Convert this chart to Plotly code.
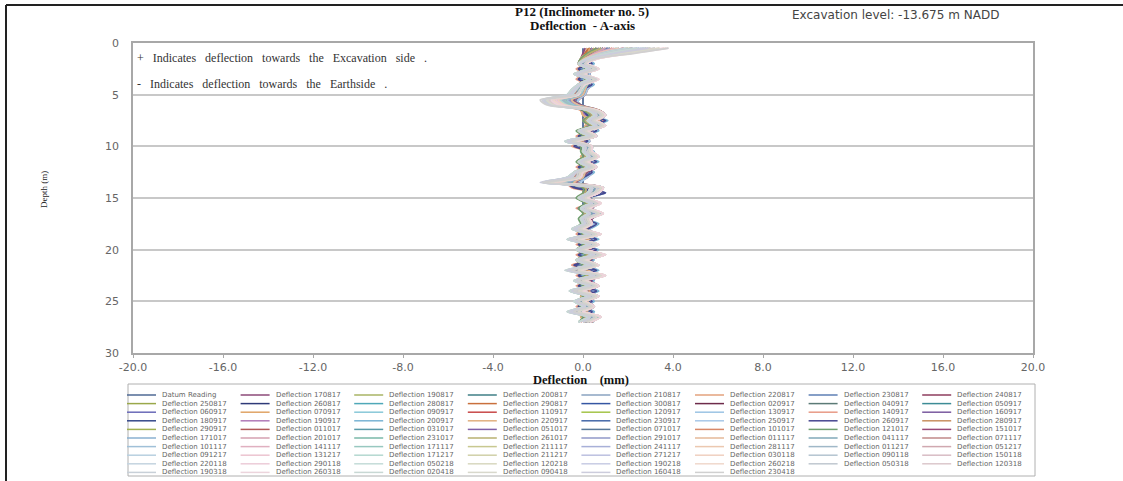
import plotly.graph_objects as go

# ---------------- data ----------------
depth_m = [0.5, 1.0, 1.5, 2.0, 2.5, 3.0, 3.5, 4.0, 4.5,
           5.0, 5.5, 6.0, 6.5, 7.0, 7.5, 8.0, 8.5, 9.0,
           9.5, 10.0, 10.5, 11.0, 11.5, 12.0, 12.5, 13.0, 13.5,
           14.0, 14.5, 15.0, 15.5, 16.0, 16.5, 17.0, 17.5, 18.0,
           18.5, 19.0, 19.5, 20.0, 20.5, 21.0, 21.5, 22.0, 22.5,
           23.0, 23.5, 24.0, 24.5, 25.0, 25.5, 26.0, 26.5, 27.0]

x_tick_values = [-20, -16, -12, -8, -4, 0, 4, 8, 12, 16, 20]
x_tick_labels = ["-20.0", "-16.0", "-12.0", "-8.0", "-4.0", "0.0", "4.0", "8.0", "12.0", "16.0", "20.0"]
y_tick_values = [0, 5, 10, 15, 20, 25, 30]

reading_dates = ["170817", "190817", "200817", "210817", "220817", "230817", "240817",
                 "250817", "260817", "280817", "290817", "300817", "020917", "040917", "050917",
                 "060917", "070917", "090917", "110917", "120917", "130917", "140917", "160917",
                 "180917", "190917", "200917", "220917", "230917", "250917", "260917", "280917",
                 "290917", "011017", "031017", "051017", "071017", "101017", "121017", "151017",
                 "171017", "201017", "231017", "261017", "291017", "011117", "041117", "071117",
                 "101117", "141117", "171117", "211117", "241117", "281117", "011217", "051217",
                 "091217", "131217", "171217", "211217", "271217", "030118", "090118", "150118",
                 "220118", "290118", "050218", "120218", "190218", "260218", "050318", "120318",
                 "190318", "260318", "020418", "090418", "160418", "230418"]

# deflection readings, in tenths of a millimetre, top to bottom (one string per reading)
defl_tenths = [
"1 0 -1 -2 1 -2 1 -1 -2 | -3 -3 -2 1 3 1 2 -1 1 | -2 0 1 1 -1 1 -1 -2 -3 | 1 1 -1 2 0 1 0 1 -2 | 1 -2 1 -1 2 -1 1 -2 2 | -1 1 -2 1 -1 0 -2 1 0",
"2 1 0 -1 2 -1 1 0 -1 | -2 -3 -1 2 3 2 3 0 1 | -2 1 0 2 -1 1 -2 -1 -4 | 2 1 0 2 1 1 0 1 -1 | 2 -1 1 0 2 0 1 -1 2 | 0 1 -1 1 0 1 -1 1 0",
"3 2 1 -1 1 -2 2 -1 -2 | -3 -4 -2 1 3 1 3 -1 2 | -3 0 1 1 0 2 -1 -2 -5 | 1 2 -1 2 0 2 1 0 -2 | 1 -3 2 -1 2 -1 1 -3 2 | -1 2 -2 1 -1 1 -2 1 0",
"4 3 2 0 2 -1 1 0 -1 | -2 -4 -3 2 4 3 3 0 1 | -2 1 2 1 0 1 -1 -1 -5 | 3 2 0 3 1 2 0 1 -1 | 2 -2 2 0 3 1 2 -2 2 | 0 2 -1 2 0 1 -1 1 1",
"2 1 -1 -2 0 -3 1 -2 -3 | -4 -5 -3 0 2 0 2 -2 0 | -4 -1 0 0 -2 0 -2 -3 -6 | 0 0 -2 1 -1 0 -1 0 -3 | 0 -4 0 -2 1 -2 0 -4 1 | -2 0 -3 0 -2 -1 -3 0 -1",
"6 4 2 1 3 0 3 1 0 | -1 -3 -1 3 5 3 5 1 3 | -2 2 2 3 1 3 0 -1 -4 | 3 3 1 4 2 3 2 2 0 | 3 -1 3 1 4 1 3 -1 4 | 1 3 0 3 1 2 0 3 2",
"3 1 0 -1 2 -2 2 0 -2 | -3 -5 -4 2 4 2 4 0 2 | -3 1 1 2 -1 2 -2 -3 -7 | 2 2 0 3 1 2 0 1 -2 | 2 -2 2 -1 3 -1 2 -3 3 | 0 2 -2 2 -1 1 -2 2 1",
"5 3 1 0 3 -1 3 1 -1 | -2 -4 -2 3 5 2 4 1 2 | -2 2 1 3 0 2 -1 -1 -5 | 3 2 1 3 2 2 1 2 -1 | 3 -1 2 0 4 0 3 -1 3 | 1 2 -1 3 0 2 -1 2 1",
"4 2 2 -1 1 -2 1 -1 -2 | -3 -6 -4 1 3 1 3 -1 1 | -4 0 0 1 -1 1 -2 -3 -7 | 1 1 -1 2 0 1 0 0 -2 | 1 -3 1 -1 2 -1 1 -3 2 | -1 1 -2 1 -1 0 -2 1 0",
"8 5 3 1 3 0 3 1 0 | -1 -4 -2 3 5 3 5 1 3 | -2 2 2 3 1 3 0 -1 -5 | 3 3 1 4 2 3 2 2 0 | 3 -1 3 1 4 1 3 -1 4 | 1 3 0 3 1 2 0 3 2",
"3 1 0 -2 1 -3 1 -1 -3 | -4 -6 -4 1 3 1 3 -1 1 | -4 0 0 1 -1 1 -2 -3 -8 | 1 1 -1 2 0 1 0 0 -2 | 1 -3 1 -1 2 -1 1 -3 2 | -1 1 -2 1 -1 0 -2 1 0",
"6 3 2 1 3 0 2 1 0 | -1 -4 -2 3 6 3 5 1 3 | -2 2 2 3 1 3 0 -1 -5 | 4 3 1 4 2 3 1 2 0 | 3 -1 3 1 4 1 3 -1 4 | 1 3 0 3 1 2 0 3 2",
"10 6 2 0 2 -1 2 0 -1 | -2 -5 -3 2 4 2 4 0 2 | -3 1 1 2 0 2 -1 -2 -6 | 2 2 0 3 1 2 1 1 -1 | 2 -2 2 0 3 0 2 -2 3 | 0 2 -1 2 0 1 -1 2 1",
"4 2 0 -1 2 -2 2 -1 -2 | -3 -6 -4 2 5 2 4 -1 2 | -3 1 0 2 -1 2 -2 -2 -7 | 2 1 -1 3 0 2 0 1 -2 | 2 -3 2 -1 3 -1 2 -3 3 | -1 2 -2 2 -1 1 -2 2 0",
"7 4 2 1 3 -1 3 0 0 | -2 -5 -3 3 5 3 5 1 3 | -3 2 2 3 0 3 -1 -2 -6 | 3 3 1 4 2 3 1 2 -1 | 3 -2 3 0 4 0 3 -2 4 | 0 3 -1 3 0 2 -1 3 1",
"8 5 1 4 -1 2 -1 4 1 | -1 -4 -5 1 2 8 4 5 -1 | 2 -2 4 1 5 -1 4 1 -4 | -2 8 2 5 -1 5 1 5 2 | -1 5 -1 5 -1 4 -2 5 -1 | 4 -1 5 1 4 -1 4 1 3",
"3 2 -1 1 -2 0 -2 1 -1 | -2 -4 -5 -1 0 4 1 2 -2 | 0 -3 1 -1 2 -2 1 -1 -4 | -3 4 0 2 -2 2 -1 2 0 | -2 2 -2 2 -2 1 -3 2 -2 | 1 -2 2 -1 1 -2 1 -1 1",
"10 6 0 4 -2 2 -2 4 0 | -2 -6 -8 0 2 10 4 6 -2 | 2 -4 4 0 6 -2 4 0 -6 | -4 9 2 6 -2 6 0 6 2 | -2 6 -2 6 -2 4 -4 6 -2 | 4 -2 6 0 4 -2 4 0 4",
"6 5 2 4 1 3 1 4 2 | 1 -2 -3 2 3 7 4 5 1 | 3 0 4 2 5 1 4 2 -2 | 0 7 3 5 1 5 2 5 3 | 1 5 1 5 1 4 0 5 1 | 4 1 5 2 4 1 4 2 4",
"7 4 0 3 -2 2 -2 3 0 | -2 -5 -6 0 2 7 3 4 -2 | 2 -3 3 0 4 -2 3 0 -5 | -3 7 2 4 -2 4 0 4 2 | -2 4 -2 4 -2 3 -3 4 -2 | 3 -2 4 0 3 -2 3 0 3",
"5 4 1 3 0 2 0 3 1 | 0 -2 -3 1 2 6 3 4 0 | 2 -1 3 1 4 0 3 1 -2 | -1 6 2 4 0 4 1 4 2 | 0 4 0 4 0 3 -1 4 0 | 3 0 4 1 3 0 3 1 3",
"9 5 -1 3 -3 1 -3 3 -1 | -3 -7 -9 -1 1 9 3 5 -3 | 1 -5 3 -1 5 -3 3 -1 -7 | -5 9 1 5 -3 5 -1 5 1 | -3 5 -3 5 -3 3 -5 5 -3 | 3 -3 5 -1 3 -3 3 -1 3",
"6 4 0 2 -1 1 -1 2 0 | -1 -4 -5 0 1 6 2 4 -1 | 1 -2 2 0 4 -1 2 0 -4 | -2 6 1 4 -1 4 0 4 1 | -1 4 -1 4 -1 2 -2 4 -1 | 2 -1 4 0 2 -1 2 0 2",
"9 6 1 4 -1 3 -1 4 1 | -1 -4 -6 1 2 8 4 5 -1 | 2 -2 4 1 5 -1 4 1 -4 | -2 8 2 5 -1 5 1 5 2 | -1 5 -1 5 -1 4 -2 5 -1 | 4 -1 5 1 4 -1 4 1 4",
"4 3 0 2 -1 1 -1 2 0 | -1 -4 -5 0 1 5 2 3 -1 | 1 -2 2 0 3 -1 2 0 -4 | -2 5 1 3 -1 3 0 3 1 | -1 3 -1 3 -1 2 -2 3 -1 | 2 -1 3 0 2 -1 2 0 2",
"12 7 1 5 -1 3 -1 5 1 | -1 -6 -8 1 3 11 5 7 -1 | 3 -3 5 1 7 -1 5 1 -6 | -3 10 3 7 -1 7 1 7 3 | -1 7 -1 7 -1 5 -3 7 -1 | 5 -1 7 1 5 -1 5 1 5",
"5 3 -1 2 -2 0 -2 2 -1 | -2 -5 -6 -1 0 5 1 3 -2 | 0 -3 2 -1 3 -2 2 -1 -5 | -3 5 0 3 -2 3 -1 3 0 | -2 3 -2 3 -2 2 -3 3 -2 | 2 -2 3 -1 2 -2 2 -1 2",
"8 5 0 3 -2 2 -2 3 0 | -2 -5 -7 0 2 8 3 5 -2 | 2 -3 3 0 5 -2 3 0 -5 | -3 8 2 5 -2 5 0 5 2 | -2 5 -2 5 -2 3 -3 5 -2 | 3 -2 5 0 3 -2 3 0 3",
"7 6 2 4 1 3 1 4 2 | 1 -2 -2 2 3 7 4 5 1 | 3 0 4 2 5 1 4 2 -1 | 0 7 3 5 1 5 2 5 3 | 1 5 1 5 1 4 0 5 1 | 4 1 5 2 4 1 4 2 4",
"11 6 0 4 -2 2 -2 4 0 | -2 -7 -8 0 2 10 4 6 -2 | 2 -4 4 0 6 -2 4 0 -7 | -4 10 2 6 -2 6 0 6 2 | -2 6 -2 6 -2 4 -4 6 -2 | 4 -2 6 0 4 -2 4 0 4",
"6 2 0 -2 2 -3 2 -2 -3 | -4 -8 -5 1 4 1 4 -2 1 | -5 0 0 1 -2 1 -3 -4 -10 | 1 1 -2 2 -1 1 -1 0 -3 | 1 -4 1 -2 2 -2 1 -4 2 | -2 1 -3 1 -2 0 -3 1 -1",
"12 7 3 1 4 0 4 1 0 | -1 -5 -2 4 7 4 7 1 4 | -2 2 3 4 1 4 0 -1 -5 | 6 4 1 5 2 5 2 2 0 | 5 -1 4 1 6 1 4 -1 6 | 1 4 0 4 1 3 0 4 2",
"9 4 2 0 3 -1 3 -1 -2 | -3 -7 -4 3 6 3 6 0 3 | -4 1 2 3 0 3 -1 -3 -8 | 3 3 0 4 1 3 1 1 -2 | 3 -3 3 0 4 0 3 -3 4 | 0 3 -2 3 0 2 -2 3 1",
"16 11 5 2 6 1 5 2 1 | 0 -4 -1 7 10 7 9 3 6 | -1 4 4 6 3 5 2 0 -3 | 9 6 3 7 4 8 4 4 1 | 7 0 6 2 8 3 6 0 8 | 2 6 1 6 2 5 1 6 4",
"7 3 0 -2 2 -3 2 -2 -3 | -5 -9 -6 1 4 1 4 -2 1 | -6 0 0 1 -2 1 -3 -5 -12 | 1 1 -2 2 -1 1 -1 0 -3 | 1 -5 1 -2 2 -2 1 -5 2 | -3 1 -3 1 -3 0 -4 1 -1",
"11 7 3 1 4 0 4 1 0 | -1 -6 -3 4 8 4 7 1 4 | -2 2 2 4 1 4 0 -1 -6 | 6 4 1 5 2 5 2 2 0 | 5 -1 4 1 6 1 4 -1 6 | 1 4 0 4 1 3 0 4 2",
"13 8 4 1 5 0 4 1 0 | -1 -6 -3 5 8 5 8 1 4 | -2 3 3 4 1 4 0 -1 -6 | 7 5 2 5 3 6 2 3 0 | 5 -1 5 1 6 1 5 -1 6 | 1 5 0 5 1 3 0 5 3",
"6 2 -1 -2 1 -3 1 -2 -4 | -5 -9 -6 0 3 0 3 -3 0 | -6 -1 -1 0 -3 0 -4 -5 -12 | 0 0 -3 1 -2 0 -2 -1 -4 | 0 -5 0 -3 1 -3 0 -5 1 | -3 0 -4 0 -3 -1 -4 0 -2",
"18 12 6 2 6 1 6 2 1 | 0 -4 -1 7 10 7 10 3 6 | -1 4 4 6 3 6 2 0 -3 | 9 7 3 7 4 8 4 4 1 | 7 0 6 3 9 3 6 0 9 | 3 7 1 7 2 5 1 7 4",
"9 5 2 0 3 -1 3 0 -1 | -2 -7 -4 3 6 3 6 0 3 | -3 1 2 3 0 3 -1 -2 -8 | 4 3 0 4 1 3 1 1 -1 | 3 -2 3 0 5 0 3 -2 5 | 0 3 -1 3 0 2 -1 3 1",
"10 5 1 -1 3 -2 3 -1 -2 | -3 -8 -5 2 5 2 5 -1 2 | -4 1 1 2 -1 2 -2 -3 -10 | 3 2 -1 3 0 2 0 1 -2 | 2 -3 2 -1 4 -1 2 -3 4 | -1 2 -2 2 -1 1 -2 2 0",
"15 10 4 2 5 1 5 1 1 | 0 -5 -2 6 9 6 8 2 5 | -1 3 3 5 2 5 1 0 -5 | 8 5 2 6 3 7 3 3 1 | 6 0 5 2 7 2 5 0 7 | 2 5 1 5 2 4 1 5 3",
"8 3 0 -2 2 -3 2 -2 -3 | -5 -9 -6 1 4 1 4 -2 1 | -6 0 0 1 -2 1 -3 -5 -12 | 1 1 -2 2 -1 1 -1 0 -3 | 1 -5 1 -2 2 -2 1 -5 2 | -3 1 -3 1 -3 0 -4 1 -1",
"12 7 3 1 4 0 4 1 0 | -1 -6 -3 4 8 4 8 1 4 | -2 2 3 4 1 4 0 -1 -6 | 6 4 1 5 2 5 2 2 0 | 5 -1 4 1 6 1 4 -1 6 | 1 4 0 4 1 3 0 4 2",
"20 13 5 2 6 1 5 2 1 | 0 -5 -2 7 10 7 9 2 6 | -1 4 4 6 2 5 1 0 -4 | 9 6 2 7 3 8 3 4 1 | 7 0 6 2 9 2 6 0 9 | 2 6 1 6 2 5 1 7 4",
"22 10 3 0 4 -2 4 0 -2 | -3 -9 -6 4 7 4 7 0 4 | -5 2 2 4 0 3 -2 -3 -11 | 5 4 0 5 1 4 1 2 -2 | 4 -4 4 -1 6 -1 4 -4 6 | -1 4 -3 4 -1 2 -3 4 1",
"18 8 2 -1 3 -3 3 -1 -3 | -4 -10 -7 3 6 3 6 -1 3 | -6 1 1 3 -1 3 -3 -4 -12 | 4 3 -1 4 0 3 0 1 -3 | 3 -5 3 -2 5 -2 3 -5 5 | -2 3 -4 3 -2 1 -4 3 0",
"25 14 5 2 6 0 6 1 0 | -1 -7 -4 6 10 6 9 2 6 | -3 4 4 6 2 5 0 -1 -8 | 9 6 2 7 3 8 3 4 0 | 7 -1 6 1 9 1 6 -1 9 | 1 6 0 6 1 4 0 7 3",
"14 6 1 -2 2 -3 2 -2 -4 | -5 -11 -8 2 5 2 5 -2 2 | -7 0 0 2 -2 2 -3 -5 -13 | 3 2 -2 3 -1 2 -1 0 -4 | 2 -6 2 -3 4 -3 2 -6 4 | -3 2 -5 2 -3 0 -5 2 -1",
"28 16 6 2 6 1 6 2 0 | -1 -8 -5 6 10 6 10 2 6 | -3 4 4 7 2 6 0 -1 -9 | 9 7 2 7 3 8 3 4 0 | 7 -1 7 1 9 1 7 -1 9 | 1 7 0 7 1 5 0 7 3",
"20 9 2 -1 3 -3 3 -1 -3 | -5 -12 -9 3 6 3 6 -1 3 | -6 1 1 3 -1 3 -3 -5 -14 | 4 3 -1 4 0 3 0 1 -3 | 3 -5 3 -2 5 -2 3 -5 5 | -2 3 -4 3 -2 1 -4 3 0",
"24 12 4 1 5 -1 5 0 -1 | -2 -10 -7 5 8 5 8 1 5 | -4 3 3 5 1 4 -1 -2 -12 | 7 5 1 6 2 6 2 3 -1 | 5 -2 5 0 7 0 5 -2 7 | 0 5 -2 5 0 3 -2 5 2",
"16 7 1 -2 2 -4 2 -2 -4 | -6 -13 -10 2 5 2 5 -2 2 | -7 0 0 2 -2 2 -4 -6 -15 | 3 2 -2 3 -1 2 -1 0 -4 | 2 -6 2 -3 4 -3 2 -6 4 | -3 2 -5 2 -3 0 -5 2 -1",
"30 17 6 2 6 0 6 1 0 | -1 -9 -6 6 10 6 10 2 6 | -3 4 4 7 2 6 0 -1 -10 | 9 7 2 7 3 9 3 4 0 | 8 -1 7 1 10 1 7 -1 10 | 1 7 0 7 1 5 0 8 3",
"22 10 3 -1 3 -3 3 -1 -3 | -5 -13 -10 3 6 3 6 -1 3 | -6 1 1 3 -1 3 -3 -5 -15 | 4 3 -1 4 0 3 0 1 -3 | 3 -5 3 -2 5 -2 3 -5 5 | -2 3 -4 3 -2 1 -4 3 0",
"26 13 4 1 5 -1 5 0 -1 | -3 -11 -8 5 8 5 8 1 5 | -4 3 3 5 1 5 -1 -2 -13 | 7 5 1 6 2 6 2 3 -1 | 6 -2 5 0 8 0 5 -2 8 | 0 5 -2 5 0 3 -2 6 2",
"18 8 2 -2 2 -4 2 -2 -4 | -6 -14 -11 2 5 2 5 -2 2 | -7 0 0 2 -2 2 -4 -6 -16 | 3 2 -2 3 -1 2 -1 0 -4 | 2 -6 2 -3 4 -3 2 -7 4 | -3 2 -5 2 -3 0 -6 2 -1",
"32 18 6 2 7 0 6 1 0 | -2 -10 -7 6 10 6 10 2 6 | -3 4 4 7 2 6 0 -1 -11 | 9 7 2 8 3 9 3 4 0 | 8 -1 7 1 10 1 7 -1 10 | 1 7 0 7 1 5 0 8 3",
"21 10 3 -1 3 -3 3 -1 -3 | -5 -14 -11 3 6 3 6 -1 3 | -6 1 1 3 -1 3 -3 -5 -16 | 4 3 -1 4 0 3 0 1 -3 | 3 -6 3 -2 5 -2 3 -6 5 | -2 3 -5 3 -2 1 -5 3 0",
"27 14 4 1 5 -1 5 0 -1 | -3 -12 -9 5 8 5 8 1 5 | -4 3 3 5 1 5 -1 -2 -14 | 7 5 1 6 2 6 2 3 -1 | 6 -2 5 0 8 0 5 -2 8 | 0 5 -2 5 0 3 -2 6 2",
"34 19 7 2 7 0 6 1 -1 | -2 -11 -8 6 10 6 10 2 6 | -3 4 4 7 2 6 0 -1 -12 | 9 7 2 8 3 9 3 4 0 | 8 -1 7 1 10 1 7 -1 10 | 1 7 0 7 1 5 0 8 3",
"19 8 2 -2 2 -4 2 -2 -5 | -7 -15 -12 2 5 2 5 -2 2 | -8 0 0 2 -2 2 -4 -7 -16 | 3 2 -2 3 -1 2 -1 0 -5 | 2 -7 2 -3 4 -3 2 -7 4 | -4 2 -6 2 -4 0 -6 2 -2",
"29 15 5 1 5 -1 5 0 -1 | -3 -13 -10 5 9 5 9 1 5 | -4 3 3 6 1 5 -1 -2 -14 | 8 5 1 6 2 7 2 3 -1 | 6 -2 6 0 8 0 6 -2 8 | 0 6 -2 6 0 4 -2 6 2",
"23 11 3 -1 3 -3 3 -1 -3 | -5 -15 -12 3 6 3 6 -1 3 | -6 1 1 3 -1 3 -3 -5 -17 | 4 3 -1 4 0 3 0 1 -3 | 3 -6 3 -2 5 -2 3 -6 5 | -2 3 -5 3 -2 1 -5 3 0",
"36 20 7 2 7 0 7 1 -1 | -2 -12 -9 6 10 6 10 2 6 | -3 4 4 7 2 6 0 -1 -13 | 9 7 2 8 3 9 3 4 0 | 8 -1 7 1 10 1 7 -1 10 | 1 7 0 7 1 5 0 8 3",
"20 9 2 -2 2 -4 2 -2 -5 | -7 -16 -13 2 5 2 5 -2 2 | -8 0 0 2 -2 2 -4 -7 -17 | 3 2 -2 3 -1 2 -1 0 -5 | 2 -7 2 -3 4 -3 2 -7 4 | -4 2 -6 2 -4 0 -7 2 -2",
"30 16 5 1 5 -1 5 0 -1 | -3 -14 -11 5 9 5 9 1 5 | -4 3 3 6 1 5 -1 -2 -15 | 8 5 1 6 2 7 2 3 -1 | 6 -2 6 0 8 0 6 -2 8 | 0 6 -2 6 0 4 -2 6 2",
"25 12 3 -1 3 -3 3 -1 -4 | -6 -16 -13 3 6 3 6 -1 3 | -7 1 1 3 -1 3 -3 -6 -17 | 4 3 -1 4 0 3 0 1 -4 | 3 -6 3 -2 5 -2 3 -7 5 | -3 3 -5 3 -3 1 -6 3 0",
"37 21 7 2 7 0 7 1 -1 | -2 -13 -10 6 10 6 10 2 6 | -3 4 4 7 2 6 0 -1 -14 | 9 7 2 8 3 9 3 4 0 | 8 -1 7 1 10 1 7 -1 10 | 1 7 0 7 1 5 0 8 3",
"22 10 2 -2 2 -4 2 -2 -5 | -7 -17 -14 2 5 2 5 -2 2 | -8 0 0 2 -2 2 -4 -7 -18 | 3 2 -2 3 -1 2 -1 0 -5 | 2 -7 2 -3 4 -3 2 -8 4 | -4 2 -6 2 -4 0 -7 2 -2",
"32 17 5 1 5 -1 5 0 -1 | -3 -15 -12 5 9 5 9 1 5 | -4 3 3 6 1 5 -1 -2 -16 | 8 5 1 6 2 7 2 3 -1 | 6 -2 6 0 8 0 6 -2 8 | 0 6 -2 6 0 4 -2 6 2",
"27 13 3 -1 3 -3 3 -1 -4 | -6 -17 -14 3 6 3 6 -1 3 | -7 1 1 3 -1 3 -3 -6 -18 | 4 3 -1 4 0 3 0 1 -4 | 3 -6 3 -2 5 -2 3 -7 5 | -3 3 -5 3 -3 1 -6 3 0",
"38 22 7 2 7 0 7 1 -1 | -2 -14 -11 6 10 6 10 2 6 | -3 4 4 7 2 6 0 -1 -15 | 9 7 2 8 3 9 3 4 0 | 8 -1 7 1 10 1 7 -1 10 | 1 7 0 7 1 5 0 8 3",
"24 11 2 -2 2 -4 2 -2 -5 | -7 -18 -15 2 5 2 5 -2 2 | -8 0 0 2 -2 2 -4 -7 -18 | 3 2 -2 3 -1 2 -1 0 -5 | 2 -7 2 -3 4 -3 2 -8 4 | -4 2 -6 2 -4 0 -7 2 -2",
"34 18 5 1 5 -1 5 0 -1 | -3 -16 -13 5 9 5 9 1 5 | -4 3 3 6 1 5 -1 -2 -16 | 8 5 1 6 2 7 2 3 -1 | 6 -2 6 0 8 0 6 -2 8 | 0 6 -2 6 0 4 -2 6 2",
"29 14 3 -1 3 -3 3 -1 -4 | -6 -18 -15 3 6 3 6 -1 3 | -7 1 1 3 -1 3 -3 -6 -19 | 4 3 -1 4 0 3 0 1 -4 | 3 -6 3 -2 5 -2 3 -7 5 | -3 3 -5 3 -3 1 -6 3 0",
"38 23 6 1 6 -1 6 0 -1 | -3 -19 -16 4 8 4 8 0 4 | -5 3 2 5 0 4 -2 -3 -18 | 6 5 0 6 1 6 1 2 -2 | 5 -4 5 -1 7 -1 5 -5 7 | -2 5 -4 5 -2 3 -4 5 1",
]

datum_mm = [0.0] * len(depth_m)

series_colors = [
    "#4f6a94", "#8c4a78", "#a8b464", "#3f7f86", "#8aa3c0", "#e3a27c", "#5e7fb5", "#8e3d5e",
    "#9aa84a", "#2e3a78", "#4fa8b8", "#c9703c", "#3556a3", "#6e2b4a", "#5b7a76", "#3c8c96",
    "#6a6ab8", "#e0a466", "#88c8d8", "#c84848", "#a4c448", "#9cc4e4", "#e89a86", "#7a5aa0",
    "#34488a", "#b07ab8", "#7ab4d4", "#e0b080", "#4468a8", "#a8c8e8", "#464690", "#c89060",
    "#a0b050", "#b05858", "#5a9aa8", "#8060a8", "#587898", "#d88868", "#70a070", "#984878",
    "#8ab0d0", "#d4a0b0", "#7ab8a8", "#b8b070", "#9098c8", "#e4b898", "#80a8b8", "#c08888",
    "#a0c0d8", "#e0b0c0", "#98c8c0", "#c8c890", "#a8b0d8", "#ecc8b0", "#a0b8c8", "#d0a8b0",
    "#b8d0e0", "#ecc4d0", "#b4d8d0", "#d0d0a8", "#bcc0e0", "#f0d0c0", "#b4c4d0", "#d8bcc4",
    "#c4d4e0", "#ecccd8", "#c4dcd8", "#d8d8c0", "#c8cce4", "#f0d8cc", "#c0c8d0", "#dcc8cc",
    "#c8d0d8", "#ecd4dc", "#c8d8d4", "#d8d8cc", "#ccccdc", "#d0d0d0",
]

# ---------------- figure ----------------
W, H = 1123, 481
L, R, T, B = 133, 1033, 43, 353
NB = "\u00a0"


def px2x(px):
    return (px - L) / (R - L)


def py2y(py):
    return (B - py) / (B - T)


def spaced(text, n):
    return (NB * n + " ").join(text.split(" "))


labels = ["Datum Reading"] + ["Deflection " + d for d in reading_dates]
values_mm = [datum_mm]
for s in defl_tenths:
    values_mm.append([int(v) / 10.0 for v in s.replace("|", " ").split()])

fig = go.Figure()
for lab, col, vals in zip(labels, series_colors, values_mm):
    n = min(len(vals), len(depth_m))
    fig.add_trace(go.Scatter(
        x=vals[:n], y=depth_m[:n], mode="lines", name=lab,
        line=dict(color=col, width=1.8, shape="spline", smoothing=0.8),
        showlegend=False, hoverinfo="skip"))

tick_font = dict(family="DejaVu Sans", size=11, color="#666666")
serif = "Liberation Serif"

fig.update_layout(
    width=W, height=H, autosize=False,
    margin=dict(l=L, r=W - R, t=T, b=H - B, pad=0),
    paper_bgcolor="white", plot_bgcolor="white",
    xaxis=dict(range=[-20, 20], tickvals=x_tick_values, ticktext=x_tick_labels,
               showgrid=False, zeroline=False,
               showline=True, linecolor="#a8a8a8", linewidth=1.5, mirror=True,
               ticks="outside", ticklen=3, tickcolor="#a8a8a8", tickfont=tick_font),
    yaxis=dict(range=[30, 0], tickvals=y_tick_values, showgrid=True,
               gridcolor="#c8c8c8", gridwidth=2, zeroline=False,
               showline=True, linecolor="#a8a8a8", linewidth=1.5, mirror=True,
               ticks="", ticklabelstandoff=10, tickfont=tick_font),
    showlegend=False,
)

ann = []
ann.append(dict(x=px2x(582), y=py2y(12), xref="paper", yref="paper",
                text="<b>P12 (Inclinometer no. 5)</b>", showarrow=False,
                font=dict(family=serif, size=13, color="#111111"), xanchor="center", yanchor="middle"))
ann.append(dict(x=px2x(582), y=py2y(25.5), xref="paper", yref="paper",
                text="<b>Deflection  - A-axis</b>", showarrow=False,
                font=dict(family=serif, size=13, color="#111111"), xanchor="center", yanchor="middle"))
ann.append(dict(x=px2x(895), y=py2y(15), xref="paper", yref="paper",
                text="Excavation level: -13.675 m NADD", showarrow=False,
                font=dict(family="DejaVu Sans", size=12, color="#444444"), xanchor="center", yanchor="middle"))
ann.append(dict(x=px2x(135), y=1.45, xref="paper", yref="y",
                text=spaced("+ Indicates deflection towards the Excavation side .", 2), showarrow=False,
                font=dict(family=serif, size=12, color="#333333"), xanchor="left", yanchor="middle"))
ann.append(dict(x=px2x(135), y=3.95, xref="paper", yref="y",
                text=spaced("- Indicates deflection towards the Earthside .", 2), showarrow=False,
                font=dict(family=serif, size=12, color="#333333"), xanchor="left", yanchor="middle"))
ann.append(dict(x=px2x(581), y=py2y(380), xref="paper", yref="paper",
                text="<b>Deflection" + NB * 3 + " (mm)</b>", showarrow=False,
                font=dict(family=serif, size=12.5, color="#111111"), xanchor="center", yanchor="middle"))
ann.append(dict(x=px2x(44), y=py2y(190), xref="paper", yref="paper",
                text="Depth (m)", showarrow=False, textangle=-90,
                font=dict(family=serif, size=9, color="#222222"), xanchor="center", yanchor="middle"))

shapes = []
# outer frame of the picture
shapes.append(dict(type="line", xref="paper", yref="paper", x0=px2x(6), x1=px2x(1123),
                   y0=py2y(5), y1=py2y(5), line=dict(color="#222222", width=2)))
shapes.append(dict(type="line", xref="paper", yref="paper", x0=px2x(6), x1=px2x(6),
                   y0=py2y(5), y1=py2y(481), line=dict(color="#222222", width=2)))

# legend box
shapes.append(dict(type="rect", xref="paper", yref="paper", x0=px2x(128), x1=px2x(1035),
                   y0=py2y(384), y1=py2y(476), line=dict(color="#b0b0b0", width=1),
                   fillcolor="rgba(0,0,0,0)"))
for i, (lab, col) in enumerate(zip(labels, series_colors)):
    r, c = divmod(i, 8)
    tx = 160 + c * 113.6
    ty = 395 + r * 8.6
    shapes.append(dict(type="line", xref="paper", yref="paper", x0=px2x(tx - 33), x1=px2x(tx - 4),
                       y0=py2y(ty), y1=py2y(ty), line=dict(color=col, width=1.5)))
    ann.append(dict(x=px2x(tx), y=py2y(ty), xref="paper", yref="paper", text=lab, showarrow=False,
                    font=dict(family="DejaVu Sans", size=7, color="#666666"),
                    xanchor="left", yanchor="middle"))

fig.update_layout(annotations=ann, shapes=shapes)
fig.write_html("out.html", config={"displayModeBar": False},
               post_script="document.body.style.margin='0';document.body.style.overflow='hidden';")
